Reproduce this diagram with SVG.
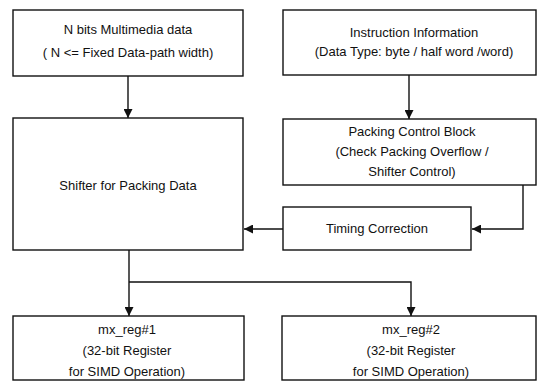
<svg xmlns="http://www.w3.org/2000/svg" width="543" height="381" viewBox="0 0 543 381">
<defs>
<style>
.box{fill:#fff;stroke:#111;stroke-width:1.4}
.t{font-family:"Liberation Sans",Arial,sans-serif;font-size:13px;fill:#111;text-anchor:middle}
.c{fill:none;stroke:#111;stroke-width:1.4}
</style>
<marker id="ah" viewBox="0 0 10 10" refX="10" refY="5" markerWidth="9" markerHeight="9" markerUnits="userSpaceOnUse" orient="auto">
<path d="M0,0 L10,5 L0,10 z" fill="#111"/>
</marker>
</defs>
<rect width="543" height="381" fill="#fff"/>
<g id="connectors">
<line class="c" x1="128" y1="76" x2="128" y2="118" marker-end="url(#ah)"/>
<line class="c" x1="409" y1="75" x2="409" y2="119" marker-end="url(#ah)"/>
<polyline class="c" points="523,185 523,229 472,229" marker-end="url(#ah)"/>
<line class="c" x1="283" y1="229" x2="244" y2="229" marker-end="url(#ah)"/>
<line class="c" x1="129" y1="250" x2="129" y2="316" marker-end="url(#ah)"/>
<polyline class="c" points="129,282 411,282 411,316" marker-end="url(#ah)"/>
</g>
<g id="n-bits">
<rect class="box" x="13" y="10" width="230" height="66"/>
<text class="t" x="128" y="34">N bits Multimedia data</text>
<text class="t" x="128" y="57">( N &lt;= Fixed Data-path width)</text>
</g>
<g id="instruction">
<rect class="box" x="283" y="10" width="253" height="65"/>
<text class="t" x="414" y="37">Instruction Information</text>
<text class="t" x="414" y="56">(Data Type: byte / half word /word)</text>
</g>
<g id="shifter">
<rect class="box" x="13" y="118" width="230" height="132"/>
<text class="t" x="128" y="190">Shifter for Packing Data</text>
</g>
<g id="packing">
<rect class="box" x="283" y="119" width="253" height="66"/>
<text class="t" x="412" y="136">Packing Control Block</text>
<text class="t" x="412" y="156">(Check Packing Overflow /</text>
<text class="t" x="412" y="176">Shifter Control)</text>
</g>
<g id="timing">
<rect class="box" x="283" y="207" width="188" height="43"/>
<text class="t" x="377" y="233">Timing Correction</text>
</g>
<g id="mx-reg1">
<rect class="box" x="13" y="316" width="231" height="64"/>
<text class="t" x="127" y="334">mx_reg#1</text>
<text class="t" x="127" y="355">(32-bit Register</text>
<text class="t" x="127" y="376">for SIMD Operation)</text>
</g>
<g id="mx-reg2">
<rect class="box" x="282" y="316" width="254" height="64"/>
<text class="t" x="411" y="334">mx_reg#2</text>
<text class="t" x="411" y="355">(32-bit Register</text>
<text class="t" x="411" y="376">for SIMD Operation)</text>
</g>
</svg>
